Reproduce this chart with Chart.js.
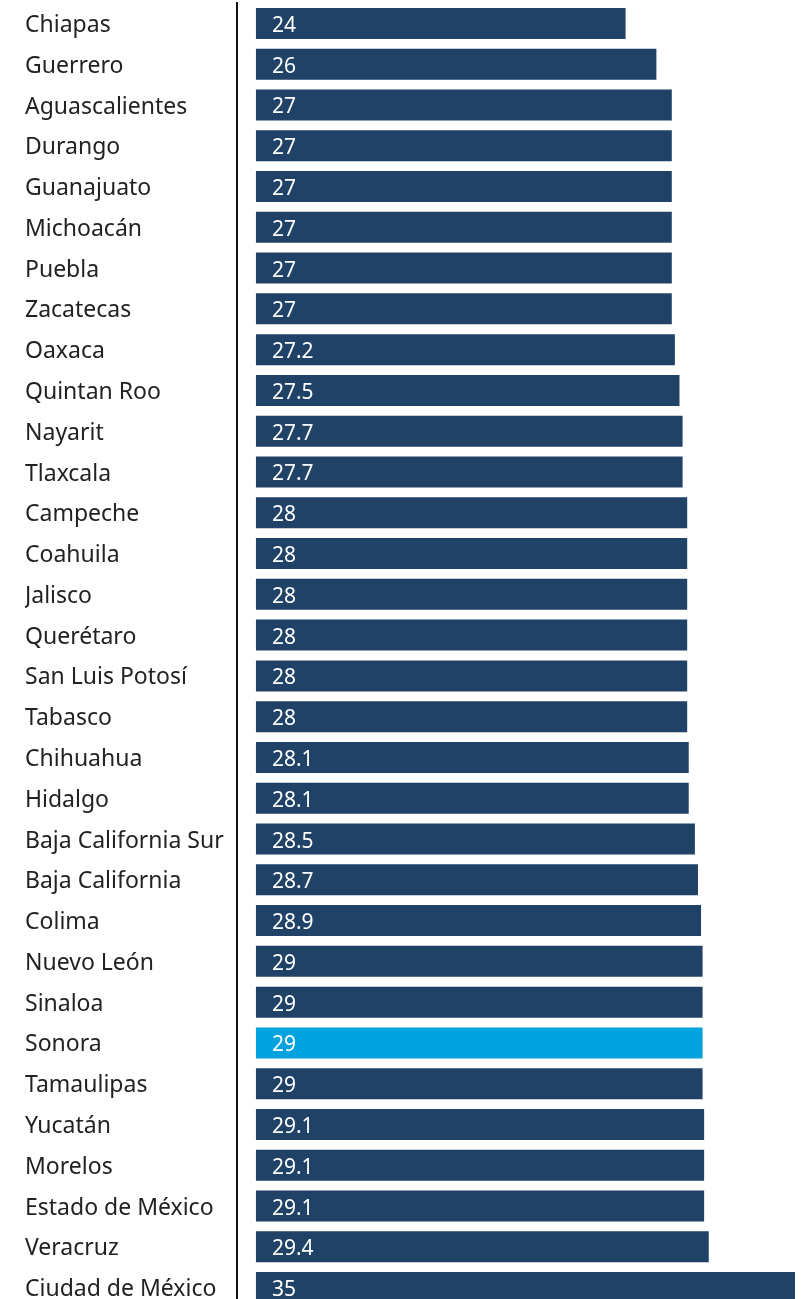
<!DOCTYPE html>
<html>
<head>
<meta charset="utf-8">
<script src="https://cdn.jsdelivr.net/npm/chart.js@4"></script>
<style>
  html, body { margin: 0; padding: 0; background: #fff; overflow: hidden; }
  #wrap { position: relative; width: 809px; height: 1308px; }
</style>
</head>
<body>
<div id="wrap"><canvas id="chart"></canvas></div>
<script>
// States, sorted ascending
const states = [
  'Chiapas', 'Guerrero', 'Aguascalientes', 'Durango', 'Guanajuato', 'Michoacán',
  'Puebla', 'Zacatecas', 'Oaxaca', 'Quintan Roo', 'Nayarit', 'Tlaxcala',
  'Campeche', 'Coahuila', 'Jalisco', 'Querétaro', 'San Luis Potosí', 'Tabasco',
  'Chihuahua', 'Hidalgo', 'Baja California Sur', 'Baja California', 'Colima',
  'Nuevo León', 'Sinaloa', 'Sonora', 'Tamaulipas', 'Yucatán', 'Morelos',
  'Estado de México', 'Veracruz', 'Ciudad de México'
];
const values = [
  24, 26, 27, 27, 27, 27,
  27, 27, 27.2, 27.5, 27.7, 27.7,
  28, 28, 28, 28, 28, 28,
  28.1, 28.1, 28.5, 28.7, 28.9,
  29, 29, 29, 29, 29.1, 29.1,
  29.1, 29.4, 35
];
const highlight = 'Sonora';

const darkBlue = '#1f4266';
const brightBlue = '#00a3e0';
const font = '"Noto Sans", sans-serif';

// Helper: draw value text inside each bar, near its base
const valueLabels = {
  id: 'valueLabels',
  afterDatasetsDraw(chart) {
    const ctx = chart.ctx;
    const meta = chart.getDatasetMeta(0);
    ctx.save();
    ctx.fillStyle = '#ffffff';
    ctx.font = '21px ' + font;
    ctx.textAlign = 'left';
    ctx.textBaseline = 'middle';
    meta.data.forEach((bar, i) => {
      ctx.fillText(String(values[i]), bar.base + 16, bar.y + 2.5);
    });
    ctx.restore();
  }
};

new Chart(document.getElementById('chart'), {
  type: 'bar',
  data: {
    labels: states,
    datasets: [{
      data: values,
      backgroundColor: states.map(s => s === highlight ? brightBlue : darkBlue),
      borderWidth: 0,
      barPercentage: 0.76,
      categoryPercentage: 1
    }]
  },
  options: {
    indexAxis: 'y',
    responsive: true,
    maintainAspectRatio: false,
    animation: false,
    layout: { padding: { top: 3, left: 25, right: 14, bottom: 0 } },
    plugins: {
      legend: { display: false },
      tooltip: { enabled: false }
    },
    scales: {
      x: {
        display: false,
        min: -1.23,
        max: 35
      },
      y: {
        afterFit: (scale) => {
          scale.width = 212;
          scale.paddingTop = 0;
          scale.paddingBottom = 0;
        },
        grid: { display: false, drawTicks: false },
        border: { display: true, color: '#111', width: 2 },
        ticks: {
          crossAlign: 'far',
          padding: 10,
          labelOffset: 2,
          color: '#222',
          font: { family: font, size: 23 }
        }
      }
    }
  },
  plugins: [valueLabels]
});
</script>
</body>
</html>
